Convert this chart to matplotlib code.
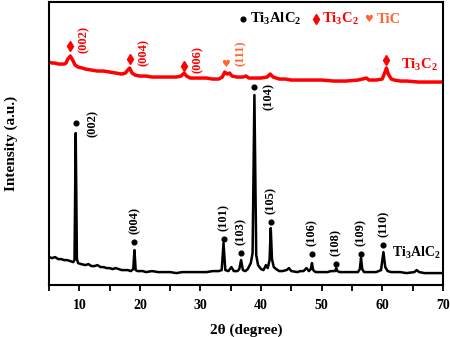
import numpy as np
import matplotlib
matplotlib.use('Agg')
import matplotlib.pyplot as plt

plt.rcParams['font.family'] = ['Liberation Serif', 'DejaVu Sans']
plt.rcParams['font.weight'] = 'bold'
plt.rcParams['mathtext.default'] = 'regular'

# Ti3AlC2 pattern (2theta, intensity a.u.)
ti3alc2_x = [5.0, 5.5, 6.0, 6.5, 7.0, 7.5, 8.0, 8.5, 9.0, 9.2, 9.4, 9.6, 9.8, 10.3, 11.0, 11.5,
             12.0, 12.5, 13.0, 13.5, 14.0, 14.5, 15.0, 15.5, 16.0, 16.5, 17.0, 17.5, 18.0, 18.5,
             18.9, 19.1, 19.3, 19.6, 20.5, 21.0, 22.0, 23.0, 24.0, 25.0, 26.0, 27.0, 28.0, 29.0,
             30.0, 31.0, 32.0, 33.0, 33.5, 33.8, 34.1, 34.6, 35.1, 35.5, 36.1, 36.4, 36.7, 37.0,
             37.4, 37.8, 38.3, 38.6, 38.9, 39.2, 39.5, 40.0, 40.4, 40.8, 41.1, 41.4, 41.6, 41.8,
             42.1, 42.5, 43.0, 43.5, 44.2, 44.6, 45.0, 46.0, 46.5, 47.0, 47.5, 47.9, 48.2, 48.4,
             48.6, 49.0, 50.0, 51.0, 51.5, 52.2, 52.4, 52.6, 53.0, 54.0, 55.0, 56.0, 56.3, 56.5,
             56.7, 57.0, 58.0, 59.0, 59.8, 60.2, 60.5, 60.9, 61.5, 62.0, 63.0, 64.0, 65.3, 65.7,
             66.1, 67.0, 68.0, 69.0, 70.0]
ti3alc2_y = [28, 27, 28, 26, 26, 25, 25, 24, 23, 25, 152, 26, 22, 21, 20, 21,
             19, 19, 20, 18, 18, 17, 17, 16, 17, 16, 15, 15, 15, 14,
             16, 35, 15, 14, 14, 13, 14, 13, 13, 13, 12, 13, 13, 13,
             13, 13, 14, 14, 15, 42, 15, 14, 18, 14, 14, 16, 25, 15,
             14, 16, 22, 32, 190, 30, 20, 16, 15, 20, 17, 25, 57, 26,
             18, 16, 14, 14, 15, 17, 14, 13, 14, 14, 17, 14, 16, 22,
             15, 13, 13, 13, 14, 14, 17, 14, 13, 13, 13, 13, 16, 27,
             16, 13, 13, 13, 15, 33, 18, 14, 13, 13, 13, 12, 13, 15,
             13, 12, 12, 12, 12]

# Ti3C2 pattern
ti3c2_x = [5.0, 5.5, 6.0, 6.5, 7.0, 7.5, 7.8, 8.1, 8.5, 8.9, 9.3, 9.8, 10.5, 11.0, 12.0, 13.0,
           14.0, 15.0, 16.0, 17.0, 17.6, 18.0, 18.3, 18.7, 19.2, 20.0, 21.0, 22.0, 23.0, 24.0,
           25.0, 26.0, 26.8, 27.3, 27.7, 28.3, 29.0, 30.0, 31.0, 32.0, 33.0, 33.6, 34.0, 34.4,
           34.8, 35.2, 36.0, 37.0, 37.5, 38.0, 39.0, 40.0, 41.0, 41.5, 42.0, 43.0, 44.0, 45.0,
           46.0, 47.0, 48.0, 49.0, 50.0, 52.0, 54.0, 56.0, 57.4, 57.8, 59.0, 60.0, 60.4, 60.7,
           61.0, 61.5, 62.0, 63.0, 64.0, 66.0, 68.0, 70.0]
ti3c2_y = [223, 222, 222, 221, 221, 221, 222, 226, 229, 225, 220, 218, 217, 216, 215, 214,
           214, 213, 212, 211, 212, 215, 217, 212, 210, 209, 209, 208, 208, 208,
           208, 208, 209, 212, 209, 207, 207, 207, 207, 206, 206, 208, 213, 211,
           212, 209, 208, 208, 209, 207, 207, 207, 208, 211, 208, 206, 206, 205,
           205, 205, 205, 205, 205, 204, 204, 205, 207, 205, 205, 206, 212, 217,
           211, 206, 205, 204, 204, 203, 203, 203]

# Ti3AlC2 reflections: position, marker height, label
mx_peaks = [9.4, 19.1, 33.8, 36.7, 38.9, 41.6, 48.4, 52.4, 56.5, 60.2]
mx_dots = [162, 43, 46, 32, 198, 63, 31, 21, 31, 40]
mx_labels = ['(002)', '(004)', '(101)', '(103)', '(104)', '(105)', '(106)', '(108)', '(109)', '(110)']

# Ti3C2 / TiC reflections
mx2_peaks = [8.5, 18.4, 27.3, 60.7]
mx2_marks = [239, 226, 219, 225]
mx2_labels = ['(002)', '(004)', '(006)', '']
tic_peak = 34.1
tic_mark = 221
tic_label = '(111)'

red = '#ff0000'
orange = '#ff6633'
lab_fs = 9

fig = plt.figure(figsize=(4.5, 3.37), dpi=100)
ax = fig.add_axes([0.109, 0.154, 0.875, 0.84])

ax.plot(ti3alc2_x, ti3alc2_y, color='black', lw=1.8)
ax.plot(ti3c2_x, ti3c2_y, color=red, lw=2.5)

# black dots and labels
ax.plot(mx_peaks, mx_dots, 'o', color='black', ms=3.4)
for x, y, lab in zip(mx_peaks, mx_dots, mx_labels):
    if lab == '(002)':
        ax.annotate(lab, (x, y), xytext=(12, 0), textcoords='offset points',
                    rotation=90, ha='center', va='center', fontsize=lab_fs)
    elif lab == '(104)':
        ax.annotate(lab, (x, y), xytext=(10, -7), textcoords='offset points',
                    rotation=90, ha='center', va='center', fontsize=lab_fs)
    else:
        ax.annotate(lab, (x, y), xytext=(0, 6), textcoords='offset points',
                    rotation=90, ha='center', va='bottom', fontsize=lab_fs)

# red diamonds and labels
ax.plot(mx2_peaks, mx2_marks, 'd', color=red, ms=4.8)
for x, y, lab in zip(mx2_peaks, mx2_marks, mx2_labels):
    if lab:
        ax.annotate(lab, (x, y), xytext=(10, 5), textcoords='offset points',
                    rotation=90, ha='center', va='center', fontsize=lab_fs, color=red)
ax.text(tic_peak, tic_mark, '\u2665', color=orange, fontsize=7,
        family='DejaVu Sans', ha='center', va='center')
ax.annotate(tic_label, (tic_peak, tic_mark), xytext=(11, 8), textcoords='offset points',
            rotation=90, ha='center', va='center', fontsize=lab_fs, color=orange)

# curve names
ax.text(65.6, 32, 'Ti$_3$AlC$_2$', fontsize=10, ha='center', va='center')
ax.text(66.1, 220, 'Ti$_3$C$_2$', fontsize=10.5, ha='center', va='center', color=red)

# legend
ax.plot([37.0], [266], 'o', color='black', ms=3.4)
ax.text(38.2, 266, 'Ti$_3$AlC$_2$', fontsize=10.5, ha='left', va='center')
ax.plot([49.1], [266], 'd', color=red, ms=4.8)
ax.text(50.0, 266, 'Ti$_3$C$_2$', fontsize=10.5, ha='left', va='center', color=red)
ax.text(57.8, 266, '\u2665', color=orange, fontsize=7, family='DejaVu Sans',
        ha='center', va='center')
ax.text(59.1, 266, 'TiC', fontsize=10.5, ha='left', va='center', color=orange)

ax.set_xlim(5, 70)
ax.set_ylim(0, 283)
ax.set_xticks([10, 20, 30, 40, 50, 60, 70])
ax.set_xticks(np.arange(5, 71, 5), minor=True)
ax.set_yticks([])
ax.tick_params(axis='x', which='major', length=4, width=1.3, labelsize=10, pad=6)
ax.tick_params(axis='x', which='minor', length=4, width=1.3)
for s in ax.spines.values():
    s.set_linewidth(1.5)
ax.set_xlabel('2\u03b8 (degree)', fontsize=11, fontweight='bold', labelpad=8)
ax.set_ylabel('Intensity (a.u.)', fontsize=11, fontweight='bold', labelpad=22)

fig.savefig('out.png', dpi=100)
